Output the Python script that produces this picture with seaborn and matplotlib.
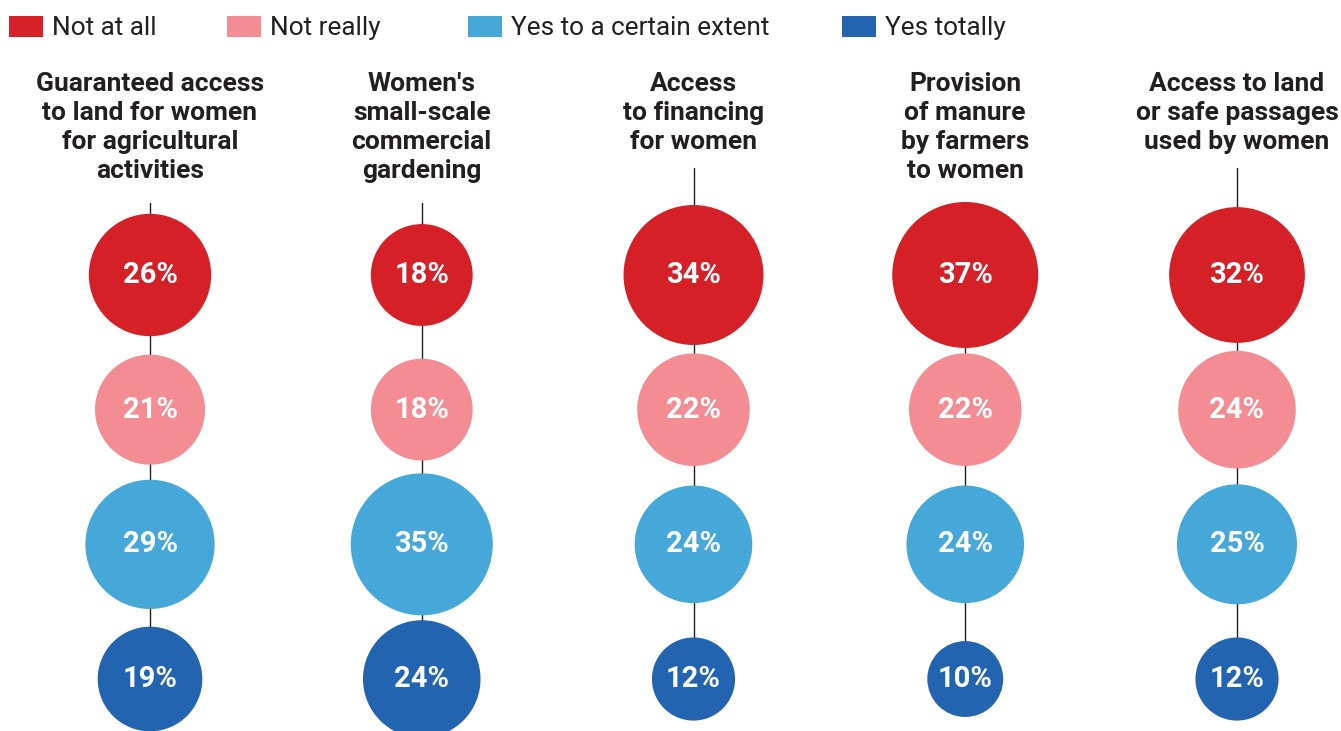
import numpy as np
import pandas as pd
import matplotlib
matplotlib.use("Agg")
import matplotlib.pyplot as plt
from matplotlib.patches import Rectangle
import seaborn as sns

# ---- data ----
categories = [
    "Guaranteed access\nto land for women\nfor agricultural\nactivities",
    "Women's\nsmall-scale\ncommercial\ngardening",
    "Access\nto financing\nfor women",
    "Provision\nof manure\nby farmers\nto women",
    "Access to land\nor safe passages\nused by women",
]
responses = ["Not at all", "Not really", "Yes to a certain extent", "Yes totally"]
not_at_all = [26, 18, 34, 37, 32]
not_really = [21, 18, 22, 22, 24]
certain_extent = [29, 35, 24, 24, 25]
yes_totally = [19, 24, 12, 10, 12]
colors = ["#D62027", "#F48C94", "#45A8D8", "#2364B0"]

series = [not_at_all, not_really, certain_extent, yes_totally]
rows = []
for ri, (resp, vals) in enumerate(zip(responses, series)):
    for ci, v in enumerate(vals):
        rows.append({"col": ci, "row": ri, "response": resp, "value": v})
df = pd.DataFrame(rows)

# ---- figure ----
W, H, DPI = 1341, 731, 100
sns.set_theme(style="white")
plt.rcParams["font.family"] = ["Roboto", "DejaVu Sans"]

fig = plt.figure(figsize=(W / DPI, H / DPI), dpi=DPI)
ax = fig.add_axes([0, 0, 1, 1])

# pixel <-> data mapping: column i at 150 + 271.75*i px, row j at 275 + 134.67*j px
x0, dx = 150, 271.75
y0, dy = 275, 134.67
ax.set_xlim((0 - x0) / dx, (W - x0) / dx)
ax.set_ylim((H - y0) / dy, (0 - y0) / dy)
ax.axis("off")

def py(px):
    return (px - y0) / dy

def px_x(px):
    return (px - x0) / dx

# circle area proportional to value: radius = 12*sqrt(v) px -> s = (2*12*0.72)^2 * v
k = (2 * 12 * 72 / DPI) ** 2
vmax = 40
sns.scatterplot(data=df, x="col", y="row", hue="response", palette=colors,
                hue_order=responses, size="value", sizes=(0, k * vmax),
                size_norm=(0, vmax), linewidth=0, legend=False, ax=ax, zorder=3)

# connector lines + titles + labels
for ci, cat in enumerate(categories):
    nlines = cat.count("\n") + 1
    top_px = 203 if nlines == 4 else 168
    ax.plot([ci, ci], [py(top_px), 3], color="#231F20", lw=1, zorder=1)
    ax.text(ci, py(72), cat, ha="center", va="top", fontsize=19,
            fontweight="bold", color="#231F20", linespacing=1.27)
for _, r in df.iterrows():
    ax.text(r["col"], r["row"], f"{r['value']}%", ha="center", va="center",
            fontsize=21, fontweight="bold", color="white", zorder=4)

# legend at top
leg_sq = [9, 227, 468, 842]
for sx, resp, c in zip(leg_sq, responses, colors):
    ax.add_patch(Rectangle((px_x(sx), py(16)), 34 / dx, 21 / dy, color=c,
                           lw=0, clip_on=False))
    ax.text(px_x(sx + 43), py(28), resp, ha="left", va="center",
            fontsize=18.8, color="#231F20")

fig.savefig("out.png", dpi=DPI)
